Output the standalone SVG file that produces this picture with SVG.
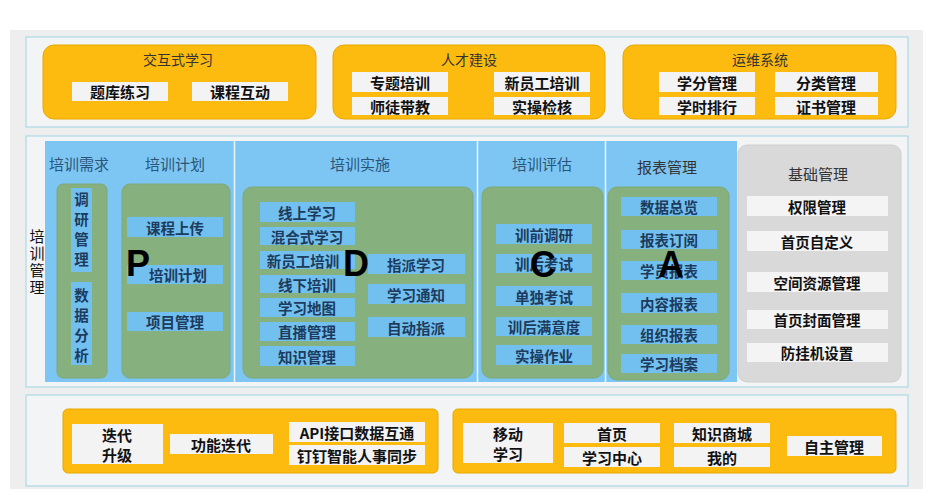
<svg xmlns="http://www.w3.org/2000/svg" width="938" height="500" viewBox="0 0 938 500">
<style>
text{font-family:"Noto Sans CJK SC","Noto Sans",sans-serif;text-anchor:middle;dominant-baseline:central}
.panel{fill:#f3f4f5;stroke:#9fd3e3;stroke-width:1}
.orange{fill:#fdbb10;stroke:#e6a800;stroke-width:1}
.wchip{fill:#f3f3f3}
.otitle{font-size:14px;fill:#333}
.otext{font-size:15px;font-weight:bold;fill:#111}
.blue{fill:#7dc6f3}
.green{fill:#86b07d;stroke:#7fa876;stroke-width:1}
.bchip{fill:#72c0f0}
.btitle{font-size:15px;fill:#2a5478}
.btext{font-size:14.5px;font-weight:bold;fill:#1d3b5c}
.vert{writing-mode:vertical-rl;text-anchor:middle;dominant-baseline:auto}
.gray{fill:#d9d9d9;stroke:#cfcfcf}
.gchip{fill:#f4f4f4}
.gtext{font-size:14.5px;font-weight:bold;fill:#111}
.vt{font-size:15px;fill:#111;letter-spacing:2px}
.big{font-family:"Liberation Sans",Arial,sans-serif;font-weight:bold;font-size:36px;fill:#000;text-anchor:start;dominant-baseline:auto}
</style>
<rect x="0" y="0" width="938" height="500" fill="#ffffff"/>
<rect x="10" y="30" width="913" height="459" fill="#eeeeee"/>

<!-- top panel -->
<g id="top">
<rect class="panel" x="26" y="37" width="882" height="90"/>
<g id="interactive">
<rect class="orange" x="43" y="45" width="273" height="74" rx="11"/>
<text class="otitle" x="178" y="59">交互式学习</text>
<rect class="wchip" x="72" y="82" width="96" height="19"/><text class="otext" x="120" y="91.5">题库练习</text>
<rect class="wchip" x="192" y="82" width="96" height="19"/><text class="otext" x="240" y="91.5">课程互动</text>
</g>
<g id="talent">
<rect class="orange" x="333" y="45" width="272" height="74" rx="11"/>
<text class="otitle" x="469" y="59">人才建设</text>
<rect class="wchip" x="352" y="72" width="96" height="20"/><text class="otext" x="400" y="82">专题培训</text>
<rect class="wchip" x="352" y="97" width="96" height="18"/><text class="otext" x="400" y="106">师徒带教</text>
<rect class="wchip" x="494" y="72" width="96" height="20"/><text class="otext" x="542" y="82">新员工培训</text>
<rect class="wchip" x="494" y="97" width="96" height="18"/><text class="otext" x="542" y="106">实操检核</text>
</g>
<g id="ops">
<rect class="orange" x="623" y="45" width="273" height="74" rx="11"/>
<text class="otitle" x="760" y="59">运维系统</text>
<rect class="wchip" x="659" y="72" width="96" height="20"/><text class="otext" x="707" y="82">学分管理</text>
<rect class="wchip" x="775" y="72" width="103" height="20"/><text class="otext" x="826" y="82">分类管理</text>
<rect class="wchip" x="659" y="97" width="96" height="18"/><text class="otext" x="707" y="106">学时排行</text>
<rect class="wchip" x="775" y="97" width="103" height="18"/><text class="otext" x="826" y="106">证书管理</text>
</g>
</g>

<!-- middle panel -->
<g id="middle">
<rect class="panel" x="26" y="136" width="882" height="251"/>
<text class="vt vert" x="37" y="263">培训管理</text>
<rect class="blue" x="45" y="141" width="692" height="241"/>
<line x1="234.5" y1="141" x2="234.5" y2="382" stroke="#e8f4fb" stroke-width="1.5"/>
<line x1="477.5" y1="141" x2="477.5" y2="382" stroke="#e8f4fb" stroke-width="1.5"/>
<line x1="605.5" y1="141" x2="605.5" y2="382" stroke="#e8f4fb" stroke-width="1.5"/>
</g>

<g id="demand">
<text class="btitle" x="79" y="163">培训需求</text>
<rect class="green" x="57" y="184" width="50" height="194" rx="6"/>
<rect class="bchip" x="71" y="188" width="21" height="84"/>
<text class="btext vert" x="81.5" y="232" style="letter-spacing:5.5px">调研管理</text>
<rect class="bchip" x="71" y="282" width="21" height="83"/>
<text class="btext vert" x="81.5" y="328" style="letter-spacing:5.5px">数据分析</text>
</g>

<g id="plan">
<text class="btitle" x="175" y="163">培训计划</text>
<rect class="green" x="122" y="184" width="108" height="194" rx="8"/>
<rect class="bchip" x="127" y="217" width="96" height="20"/><text class="btext" x="175" y="227">课程上传</text>
<rect class="bchip" x="127" y="265" width="96" height="19"/><text class="btext" x="178" y="274.5">培训计划</text>
<rect class="bchip" x="127" y="312" width="96" height="19"/><text class="btext" x="175" y="321.5">项目管理</text>
<text class="big" x="126" y="276">P</text>
</g>

<g id="implement">
<text class="btitle" x="360" y="163">培训实施</text>
<rect class="green" x="243" y="187" width="230" height="191" rx="9"/>
<rect class="bchip" x="260" y="202" width="95" height="20"/><text class="btext" x="307" y="212">线上学习</text>
<rect class="bchip" x="260" y="227" width="95" height="18"/><text class="btext" x="307" y="236">混合式学习</text>
<rect class="bchip" x="260" y="251" width="95" height="18"/><text class="btext" x="303" y="260">新员工培训</text>
<rect class="bchip" x="260" y="275" width="95" height="18"/><text class="btext" x="307" y="284">线下培训</text>
<rect class="bchip" x="260" y="298" width="95" height="19"/><text class="btext" x="307" y="307.5">学习地图</text>
<rect class="bchip" x="260" y="322" width="95" height="19"/><text class="btext" x="307" y="331.5">直播管理</text>
<rect class="bchip" x="260" y="346" width="95" height="20"/><text class="btext" x="307" y="356">知识管理</text>
<rect class="bchip" x="368" y="254" width="97" height="20"/><text class="btext" x="416" y="264">指派学习</text>
<rect class="bchip" x="368" y="284" width="97" height="20"/><text class="btext" x="416" y="294">学习通知</text>
<rect class="bchip" x="368" y="317" width="97" height="20"/><text class="btext" x="416" y="327">自动指派</text>
<text class="big" x="343" y="276">D</text>
</g>

<g id="evaluate">
<text class="btitle" x="542" y="163">培训评估</text>
<rect class="green" x="482" y="187" width="121" height="191" rx="9"/>
<rect class="bchip" x="496" y="224" width="96" height="20"/><text class="btext" x="544" y="234">训前调研</text>
<rect class="bchip" x="496" y="254" width="96" height="19"/><text class="btext" x="544" y="263.5">训后考试</text>
<rect class="bchip" x="496" y="286" width="96" height="20"/><text class="btext" x="544" y="296">单独考试</text>
<rect class="bchip" x="496" y="317" width="96" height="19"/><text class="btext" x="544" y="326.5">训后满意度</text>
<rect class="bchip" x="496" y="345" width="96" height="20"/><text class="btext" x="544" y="355">实操作业</text>
<text class="big" x="530" y="277">C</text>
</g>

<g id="report">
<text x="667" y="166" style="font-size:15px;fill:#333">报表管理</text>
<rect class="green" x="608" y="187" width="121" height="193" rx="9"/>
<rect class="bchip" x="621" y="197" width="96" height="19"/><text class="btext" x="669" y="206.5">数据总览</text>
<rect class="bchip" x="621" y="230" width="96" height="19"/><text class="btext" x="669" y="239.5">报表订阅</text>
<rect class="bchip" x="621" y="261" width="96" height="19"/><text class="btext" x="669" y="270.5">学员报表</text>
<rect class="bchip" x="621" y="293" width="96" height="20"/><text class="btext" x="669" y="303">内容报表</text>
<rect class="bchip" x="621" y="325" width="96" height="19"/><text class="btext" x="669" y="334.5">组织报表</text>
<rect class="bchip" x="621" y="354" width="96" height="19"/><text class="btext" x="669" y="363.5">学习档案</text>
<text class="big" x="658" y="277">A</text>
</g>

<g id="base">
<rect class="gray" x="738" y="145" width="163" height="237" rx="9"/>
<text x="818" y="173" style="font-size:15px;fill:#333">基础管理</text>
<rect class="gchip" x="747" y="196" width="141" height="20"/><text class="gtext" x="817" y="206">权限管理</text>
<rect class="gchip" x="747" y="231" width="141" height="20"/><text class="gtext" x="817" y="241">首页自定义</text>
<rect class="gchip" x="747" y="272" width="141" height="20"/><text class="gtext" x="817" y="282">空间资源管理</text>
<rect class="gchip" x="747" y="310" width="141" height="19"/><text class="gtext" x="817" y="319.5">首页封面管理</text>
<rect class="gchip" x="747" y="343" width="141" height="19"/><text class="gtext" x="817" y="352.5">防挂机设置</text>
</g>

<!-- bottom panel -->
<g id="bottom">
<rect class="panel" x="26" y="395" width="882" height="91"/>
<g id="iterate">
<rect class="orange" x="63" y="409" width="375" height="64" rx="5"/>
<rect class="wchip" x="72" y="424" width="91" height="40"/>
<text class="otext" x="117" y="434">迭代</text><text class="otext" x="117" y="454">升级</text>
<rect class="wchip" x="170" y="434" width="103" height="20"/><text class="otext" x="221" y="444">功能迭代</text>
<rect class="wchip" x="289" y="422" width="136" height="20"/><text class="otext" x="357" y="432">API接口数据互通</text>
<rect class="wchip" x="289" y="445" width="136" height="20"/><text class="otext" x="357" y="455">钉钉智能人事同步</text>
</g>
<g id="mobile">
<rect class="orange" x="453" y="409" width="443" height="64" rx="5"/>
<rect class="wchip" x="463" y="423" width="90" height="40"/>
<text class="otext" x="508" y="433">移动</text><text class="otext" x="508" y="453">学习</text>
<rect class="wchip" x="564" y="423" width="96" height="20"/><text class="otext" x="612" y="433">首页</text>
<rect class="wchip" x="564" y="447" width="96" height="20"/><text class="otext" x="612" y="457">学习中心</text>
<rect class="wchip" x="674" y="423" width="96" height="20"/><text class="otext" x="722" y="433">知识商城</text>
<rect class="wchip" x="674" y="447" width="96" height="20"/><text class="otext" x="722" y="457">我的</text>
<rect class="wchip" x="787" y="436" width="95" height="20"/><text class="otext" x="834" y="446">自主管理</text>
</g>
</g>
</svg>
